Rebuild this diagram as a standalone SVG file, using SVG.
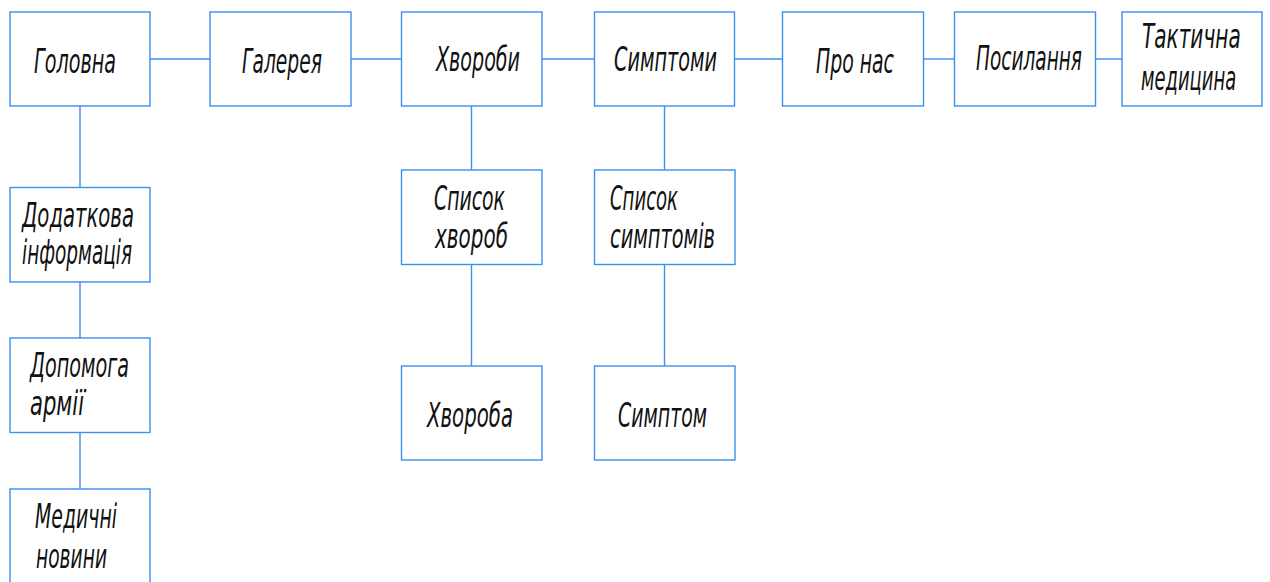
<svg xmlns="http://www.w3.org/2000/svg" width="1270" height="582" viewBox="0 0 1270 582">
<style>
.n{fill:#fff;stroke:#3b8ff0;stroke-width:1.4}
#connectors line{stroke:#3b8ff0;stroke-width:1.4}
text{font-family:"Liberation Sans Narrow","DejaVu Sans Condensed",sans-serif;font-style:italic;font-size:34px;fill:#111}
</style>
<g id="connectors">
<line x1="150" y1="59" x2="210" y2="59"/>
<line x1="351" y1="59" x2="401.5" y2="59"/>
<line x1="542" y1="59" x2="594" y2="59"/>
<line x1="734.5" y1="59" x2="782.5" y2="59"/>
<line x1="923.5" y1="59" x2="954.5" y2="59"/>
<line x1="1095.5" y1="59" x2="1122" y2="59"/>
<line x1="80" y1="106" x2="80" y2="187"/>
<line x1="80" y1="282" x2="80" y2="338"/>
<line x1="80" y1="432" x2="80" y2="489"/>
<line x1="471.5" y1="106" x2="471.5" y2="170"/>
<line x1="471.5" y1="264" x2="471.5" y2="366"/>
<line x1="664.5" y1="106" x2="664.5" y2="170"/>
<line x1="664.5" y1="264" x2="664.5" y2="366"/>
</g>
<g id="holovna"><rect class="n" x="10" y="12" width="140" height="94"/><text x="34" y="73" textLength="82" lengthAdjust="spacingAndGlyphs">Головна</text></g>
<g id="halereia"><rect class="n" x="210" y="12" width="141" height="94"/><text x="242" y="73" textLength="80" lengthAdjust="spacingAndGlyphs">Галерея</text></g>
<g id="khvoroby"><rect class="n" x="401.5" y="12" width="140.5" height="94"/><text x="436" y="71" textLength="84" lengthAdjust="spacingAndGlyphs">Хвороби</text></g>
<g id="symptomy"><rect class="n" x="594.5" y="12" width="140" height="94"/><text x="614" y="71" textLength="103" lengthAdjust="spacingAndGlyphs">Симптоми</text></g>
<g id="pro-nas"><rect class="n" x="782.5" y="12" width="141" height="94"/><text x="816" y="73" textLength="78" lengthAdjust="spacingAndGlyphs">Про нас</text></g>
<g id="posylannia"><rect class="n" x="954.5" y="12" width="141" height="94"/><text x="976" y="70" textLength="106" lengthAdjust="spacingAndGlyphs">Посилання</text></g>
<g id="taktychna"><rect class="n" x="1122" y="12" width="140" height="94"/><text transform="translate(1142,48) scale(0.7,1)" textLength="141" lengthAdjust="spacingAndGlyphs">Тактична</text><text transform="translate(1141,90) scale(0.7,1)" textLength="136" lengthAdjust="spacingAndGlyphs">медицина</text></g>
<g id="dodatkova"><rect class="n" x="10" y="187.5" width="140" height="94.5"/><text x="22" y="227" textLength="112" lengthAdjust="spacingAndGlyphs">Додаткова</text><text x="22" y="264" textLength="110" lengthAdjust="spacingAndGlyphs">інформація</text></g>
<g id="dopomoha"><rect class="n" x="10" y="338" width="140" height="94.5"/><text x="30" y="377" textLength="99" lengthAdjust="spacingAndGlyphs">Допомога</text><text x="30" y="415" textLength="54" lengthAdjust="spacingAndGlyphs">армії</text></g>
<g id="medychni"><rect class="n" x="10" y="489" width="140" height="96"/><text x="35" y="528" textLength="82" lengthAdjust="spacingAndGlyphs">Медичні</text><text x="36" y="568" textLength="71" lengthAdjust="spacingAndGlyphs">новини</text></g>
<g id="spysok-khvorob"><rect class="n" x="401.5" y="170" width="140.5" height="94.5"/><text x="434" y="210" textLength="71" lengthAdjust="spacingAndGlyphs">Список</text><text x="435" y="248" textLength="73" lengthAdjust="spacingAndGlyphs">хвороб</text></g>
<g id="spysok-symptomiv"><rect class="n" x="594.5" y="170" width="140.5" height="94.5"/><text x="610" y="210" textLength="68" lengthAdjust="spacingAndGlyphs">Список</text><text x="610" y="248" textLength="105" lengthAdjust="spacingAndGlyphs">симптомів</text></g>
<g id="khvoroba"><rect class="n" x="401.5" y="366" width="140.5" height="94"/><text x="427" y="427" textLength="86" lengthAdjust="spacingAndGlyphs">Хвороба</text></g>
<g id="symptom"><rect class="n" x="594.5" y="366" width="140.5" height="94"/><text x="618" y="427" textLength="89" lengthAdjust="spacingAndGlyphs">Симптом</text></g>
</svg>
